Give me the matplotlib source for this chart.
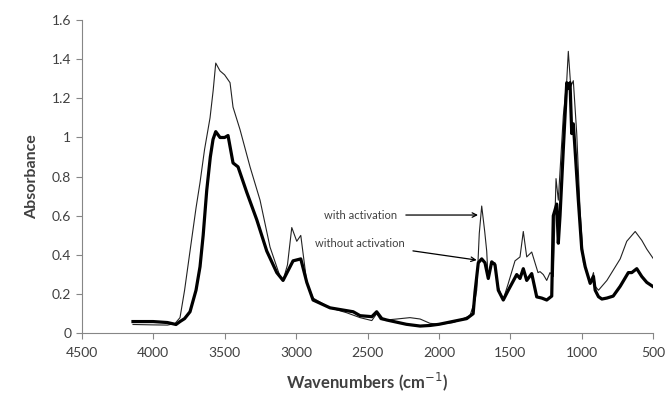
import matplotlib.pyplot as plt
from matplotlib.ticker import FuncFormatter

# FTIR spectra, wavenumber (cm-1) vs absorbance
wn_act = [4141, 4000, 3900, 3847, 3812, 3780, 3742, 3700, 3672, 3640, 3602, 3580,
          3562, 3532, 3500, 3462, 3441, 3392, 3322, 3252, 3182, 3112, 3091, 3060,
          3030, 2995, 2967, 2925, 2881, 2762, 2646, 2552, 2470, 2436, 2410, 2366,
          2296, 2203, 2132, 2063, 1993, 1900, 1853, 1783, 1748, 1736, 1718, 1701,
          1680, 1666, 1657, 1631, 1608, 1587, 1552, 1517, 1468, 1433, 1410, 1386,
          1351, 1328, 1307, 1293, 1270, 1246, 1223, 1200, 1181, 1165, 1130, 1106,
          1095, 1078, 1060, 1036, 1013, 989, 966, 942, 919, 907, 884, 825, 732,
          686, 627, 581, 546, 499]
abs_act = [0.045, 0.043, 0.042, 0.05, 0.08, 0.22, 0.42, 0.64, 0.77, 0.94, 1.10, 1.24,
           1.38, 1.34, 1.32, 1.28, 1.155, 1.04, 0.85, 0.68, 0.44, 0.29, 0.27, 0.35,
           0.54, 0.47, 0.50, 0.26, 0.18, 0.13, 0.105, 0.08, 0.065, 0.10, 0.07, 0.068,
           0.073, 0.08, 0.073, 0.051, 0.046, 0.055, 0.068, 0.09, 0.17, 0.22, 0.51, 0.65,
           0.52, 0.42, 0.29, 0.36, 0.36, 0.24, 0.17, 0.25, 0.37, 0.39, 0.52, 0.39,
           0.415, 0.36, 0.31, 0.315, 0.30, 0.27, 0.31, 0.29, 0.79, 0.68, 1.11, 1.29,
           1.44, 1.26, 1.29, 1.02, 0.63, 0.36, 0.32, 0.255, 0.31, 0.24, 0.22, 0.27, 0.38,
           0.47, 0.52, 0.475, 0.43, 0.38]

wn_raw = [4141, 4000, 3900, 3840, 3812, 3780, 3742, 3700, 3672, 3650, 3625, 3600,
          3581, 3562, 3532, 3500, 3476, 3441, 3406, 3345, 3275, 3205, 3135, 3091,
          3021, 2967, 2925, 2881, 2762, 2600, 2552, 2470, 2436, 2400, 2366, 2228,
          2132, 2063, 2000, 1853, 1806, 1761, 1748, 1725, 1701, 1678, 1655, 1631,
          1608, 1585, 1550, 1515, 1456, 1433, 1410, 1386, 1351, 1316, 1281, 1246,
          1211, 1200, 1176, 1165, 1153, 1130, 1106, 1095, 1083, 1071, 1060, 1048,
          1025, 1001, 977, 942, 919, 907, 884, 860, 825, 781, 732, 675, 651, 616,
          581, 546, 499]
abs_raw = [0.06, 0.06, 0.055, 0.045, 0.06, 0.075, 0.11, 0.22, 0.34, 0.50, 0.73, 0.90,
           0.99, 1.03, 1.0, 1.0, 1.01, 0.87, 0.85, 0.72, 0.58, 0.42, 0.31, 0.27,
           0.37, 0.38, 0.26, 0.17, 0.13, 0.11, 0.09, 0.085, 0.11, 0.075, 0.068, 0.046,
           0.037, 0.04, 0.046, 0.068, 0.075, 0.10, 0.21, 0.36, 0.38, 0.36, 0.28, 0.365,
           0.35, 0.22, 0.17, 0.22, 0.30, 0.28, 0.33, 0.27, 0.305, 0.186, 0.18, 0.17,
           0.19, 0.6, 0.66, 0.46, 0.6, 0.94, 1.28, 1.25, 1.28, 1.02, 1.07, 0.94,
           0.68, 0.43, 0.34, 0.255, 0.29, 0.22, 0.187, 0.175, 0.18, 0.19, 0.24, 0.31,
           0.31, 0.33, 0.29, 0.26, 0.237]

plt.rcParams['font.family'] = ['Lato', 'DejaVu Sans']
grey = '#868686'
txt = '#404040'

fig = plt.figure(figsize=(6.69, 3.93), dpi=100)
ax = fig.add_axes([0.1221, 0.1519, 0.8545, 0.7972])

ax.plot(wn_act, abs_act, color='#222222', linewidth=0.8)
ax.plot(wn_raw, abs_raw, color='black', linewidth=2.3, solid_joinstyle='round')

ax.set_xlim(4500, 500)
ax.set_ylim(0, 1.6)
ax.set_xticks([4500, 4000, 3500, 3000, 2500, 2000, 1500, 1000, 500])
ax.set_yticks([0, 0.2, 0.4, 0.6, 0.8, 1.0, 1.2, 1.4, 1.6])
ax.yaxis.set_major_formatter(FuncFormatter(lambda v, p: '%g' % round(v, 1)))

for s in ['top', 'right']:
    ax.spines[s].set_visible(False)
for s in ['left', 'bottom']:
    ax.spines[s].set_color(grey)
    ax.spines[s].set_linewidth(0.8)
ax.tick_params(axis='both', colors=grey, length=4, width=0.8, labelcolor=txt, labelsize=10)
ax.tick_params(axis='x', pad=6)

ax.set_xlabel('Wavenumbers (cm$^{-1}$)', fontsize=12, fontweight='bold', color=txt, labelpad=8)
ax.set_ylabel('Absorbance', fontsize=11.5, fontweight='bold', color=txt, labelpad=9)

ax.annotate('with activation', xy=(1727, 0.604), xytext=(2290, 0.604),
            fontsize=8, color=txt, ha='right', va='center',
            arrowprops=dict(arrowstyle='->', color='black', lw=0.9, shrinkA=4, shrinkB=0))
ax.annotate('without activation', xy=(1736, 0.374), xytext=(2240, 0.46),
            fontsize=8, color=txt, ha='right', va='center',
            arrowprops=dict(arrowstyle='->', color='black', lw=0.9, shrinkA=4, shrinkB=0))

fig.savefig('out.png', dpi=100)
